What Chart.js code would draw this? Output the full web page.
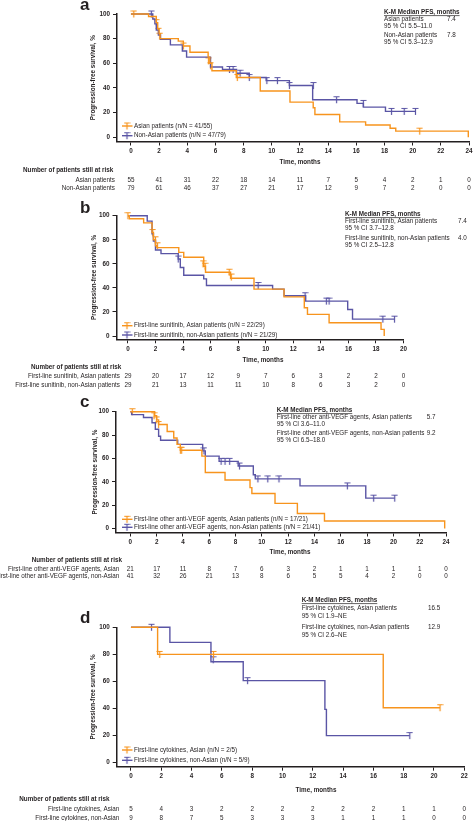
<!DOCTYPE html>
<html lang="en">
<head>
<meta charset="UTF-8">
<title>Progression-free survival, Asian vs non-Asian patients</title>
<script src="https://cdn.jsdelivr.net/npm/chart.js"></script>
<style>
  body { margin: 0; background: #fff; }
  #page { position: relative; width: 473px; height: 821px; overflow: hidden; }
  #page canvas { position: absolute; left: 0; }
</style>
</head>
<body>
<div id="page">
  <canvas id="chartA"></canvas>
  <canvas id="chartB"></canvas>
  <canvas id="chartC"></canvas>
  <canvas id="chartD"></canvas>
</div>

<script>
    // ---- data ----
    const yTicks = [0, 20, 40, 60, 80, 100];

    // a: all patients
    const aTicks = [0, 2, 4, 6, 8, 10, 12, 14, 16, 18, 20, 22, 24];
    const aAsianT = [0, 1.25, 1.8, 1.9, 2.0, 2.07, 3.36, 3.72, 4.19, 5.48, 5.6, 5.75, 7.48, 9.18, 11.29, 12.94, 13.06, 14.82, 16.66, 18.4, 18.8, 23.95];
    const aAsianS = [100, 98, 93, 88, 84, 80, 78, 74, 69, 65, 60, 54, 48.5, 37.5, 28.5, 24, 18.5, 12.5, 10, 7.3, 5, 0];
    const aAsianCensT = [0.2, 1.8, 1.95, 2.05, 3.72, 5.5, 5.65, 7.55, 20.5];
    const aAsianCensS = [100, 93, 86, 82, 74, 62, 58, 48.5, 5];
    const aNonT = [0, 1.55, 1.7, 1.8, 1.95, 2.1, 2.8, 3.65, 3.95, 5.65, 6.5, 7.5, 8.4, 9.6, 11.25, 12.9, 16.05, 16.5, 18.07, 20.2];
    const aNonS = [100, 96, 92, 87, 83, 79.5, 75, 70, 65, 57, 55, 52, 48.5, 46, 42, 30.5, 27.5, 24.5, 21, 21];
    const aNonCensT = [1.45, 7.0, 7.25, 7.75, 8.4, 9.65, 10.4, 11.25, 12.95, 14.6, 16.5, 18.5, 19.4, 20.2];
    const aNonCensS = [100, 55, 55, 52, 48.5, 46, 46, 42, 42, 30.5, 27.5, 21, 21, 21];
    const aRiskAsian = [55, 41, 31, 22, 18, 14, 11, 7, 5, 4, 2, 1, 0];
    const aRiskNon = [79, 61, 46, 37, 27, 21, 17, 12, 9, 7, 2, 0, 0];
    const aRiskLabels = ['Asian patients', 'Non-Asian patients'];
    const aLegend = ['Asian patients (n/N = 41/55)', 'Non-Asian patients (n/N = 47/79)'];
    const aNotes = ['Asian patients', '95 % CI 5.5\u201311.0', 'Non-Asian patients', '95 % CI 5.3\u201312.9'];
    const aMedians = ['7.4', '7.8'];

    // b: first-line sunitinib
    const bTicks = [0, 2, 4, 6, 8, 10, 12, 14, 16, 18, 20];
    const bAsianT = [0, 0.1, 1.14, 1.75, 1.85, 2.0, 2.1, 3.69, 4.05, 5.5, 5.63, 7.45, 9.15, 11.33, 12.8, 13.03, 14.6, 18.37, 18.6];
    const bAsianS = [100, 97.5, 94, 86, 80, 75, 73.5, 69.5, 65.5, 58, 53, 48, 39, 32.5, 23.5, 18, 11, 5.5, 0];
    const bAsianCensT = [0, 1.8, 2.0, 2.15, 5.45, 5.6, 7.35, 7.5];
    const bAsianCensS = [100, 86, 80, 75, 60, 58, 53, 49];
    const bNonT = [0, 1.4, 1.75, 1.85, 2.0, 2.4, 3.65, 3.8, 4.05, 5.5, 5.7, 10.5, 11.33, 12.9, 15.95, 16.3, 19.35];
    const bNonS = [100, 95.5, 85, 79, 71.5, 68.5, 64, 57, 50.5, 47.5, 42, 39, 33.5, 29, 22, 14, 14];
    const bNonCensT = [3.65, 9.45, 12.86, 14.4, 14.6, 18.5, 19.35];
    const bNonCensS = [64, 42, 33.5, 29, 29, 14, 14];
    const bRiskAsian = [29, 20, 17, 12, 9, 7, 6, 3, 2, 2, 0];
    const bRiskNon = [29, 21, 13, 11, 11, 10, 8, 6, 3, 2, 0];
    const bRiskLabels = ['First-line sunitinib, Asian patients', 'First-line sunitinib, non-Asian patients'];
    const bLegend = ['First-line sunitinib, Asian patients (n/N = 22/29)', 'First-line sunitinib, non-Asian patients (n/N = 21/29)'];
    const bNotes = ['First-line sunitinib, Asian patients', '95 % CI 3.7\u201312.8', 'First-line sunitinib, non-Asian patients', '95 % CI 2.5\u201312.8'];
    const bMedians = ['7.4', '4.0'];

    // c: first-line other anti-VEGF agents
    const cTicks = [0, 2, 4, 6, 8, 10, 12, 14, 16, 18, 20, 22, 24];
    const cAsianT = [0, 1.85, 2.0, 2.15, 2.8, 3.3, 3.55, 3.8, 5.44, 5.7, 7.2, 9.1, 9.24, 11.0, 12.7, 14.76, 23.9];
    const cAsianS = [100, 96.5, 93, 89, 83, 77.5, 72, 67, 62, 48, 41.5, 35, 30, 21.5, 12.8, 6.5, 0];
    const cAsianCensT = [0.15, 1.8, 2.0, 2.15, 3.8, 3.9];
    const cAsianCensS = [100, 96.5, 93, 89, 67, 67];
    const cNonT = [0, 0.1, 1.0, 1.65, 1.9, 2.15, 2.3, 3.6, 5.5, 5.7, 6.75, 8.2, 9.35, 9.5, 12.9, 17.9, 20.1];
    const cNonS = [100, 97.5, 95, 90.5, 85, 79, 75.5, 72, 66.5, 62, 57.5, 53.5, 46, 42.5, 36.5, 26, 26];
    const cNonCensT = [5.6, 6.9, 7.2, 7.55, 8.3, 9.7, 10.45, 11.3, 16.5, 18.5, 20.1];
    const cNonCensS = [66.5, 57.5, 57.5, 57.5, 53.5, 42.5, 42.5, 42.5, 36.5, 26, 26];
    const cRiskAsian = [21, 17, 11, 8, 7, 6, 3, 2, 1, 1, 1, 1, 0];
    const cRiskNon = [41, 32, 26, 21, 13, 8, 6, 5, 5, 4, 2, 0, 0];
    const cRiskLabels = ['First-line other anti-VEGF agents, Asian', 'First-line other anti-VEGF agents, non-Asian'];
    const cLegend = ['First-line other anti-VEGF agents, Asian patients (n/N = 17/21)', 'First-line other anti-VEGF agents, non-Asian patients (n/N = 21/41)'];
    const cNotes = ['First-line other anti-VEGF agents, Asian patients', '95 % CI 3.6\u201311.0', 'First-line other anti-VEGF agents, non-Asian patients', '95 % CI 6.5\u201318.0'];
    const cMedians = ['5.7', '9.2'];

    // d: first-line cytokines
    const dTicks = [0, 2, 4, 6, 8, 10, 12, 14, 16, 18, 20, 22];
    const dAsianT = [0, 1.76, 16.65, 20.4];
    const dAsianS = [100, 80, 40.6, 40.6];
    const dAsianCensT = [1.9, 5.45, 20.4];
    const dAsianCensS = [80, 80, 40.6];
    const dNonT = [0, 2.57, 5.28, 7.41, 12.8, 12.9, 18.4];
    const dNonS = [100, 88.9, 74.6, 60.6, 39.4, 20, 20];
    const dNonCensT = [1.36, 5.43, 7.7, 18.4];
    const dNonCensS = [100, 76, 60.6, 20];
    const dRiskAsian = [5, 4, 3, 2, 2, 2, 2, 2, 2, 1, 1, 0];
    const dRiskNon = [9, 8, 7, 5, 3, 3, 3, 1, 1, 1, 0, 0];
    const dRiskLabels = ['First-line cytokines, Asian', 'First-line cytokines, non-Asian'];
    const dLegend = ['First-line cytokines, Asian (n/N = 2/5)', 'First-line cytokines, non-Asian (n/N = 5/9)'];
    const dNotes = ['First-line cytokines, Asian patients', '95 % CI 1.9\u2013NE', 'First-line cytokines, non-Asian patients', '95 % CI 2.6\u2013NE'];
    const dMedians = ['16.5', '12.9'];

    // ---- look ----
    const FONT = '"Liberation Sans", Arial, Helvetica, sans-serif';
    const TXT = 6.3;
    const ink = '#231f20';
    const orange = '#f7941d';
    const blue = '#5a55a5';

    // where each panel sits on the page (page pixels)
    const panels = [
        { id: 'chartA', letter: 'a', top: 0, h: 196,
          area: { left: 117, right: 469.5, top: 14, bottom: 141.5 }, xMin: -0.99, xMax: 24, yMin: -3.4,
          ticks: aTicks, asian: [aAsianT, aAsianS], asianCens: [aAsianCensT, aAsianCensS],
          non: [aNonT, aNonS], nonCens: [aNonCensT, aNonCensS], risk: [aRiskAsian, aRiskNon],
          riskLabels: aRiskLabels, legend: aLegend, notes: aNotes, medians: aMedians,
          letterPos: [80, 10], yTitleX: 93, xTitle: [300, 162], legendY: [126, 135.7],
          note: { x: 384, vx: 447, y: [12, 19, 26, 35, 42] },
          riskPos: { hx: 23, hy: 170.7, lx: 115, y: [180, 188.3] } },
        { id: 'chartB', letter: 'b', top: 197, h: 196,
          area: { left: 116.5, right: 403.5, top: 215.7, bottom: 339.3 }, xMin: -0.83, xMax: 20, yMin: -2.74,
          ticks: bTicks, asian: [bAsianT, bAsianS], asianCens: [bAsianCensT, bAsianCensS],
          non: [bNonT, bNonS], nonCens: [bNonCensT, bNonCensS], risk: [bRiskAsian, bRiskNon],
          riskLabels: bRiskLabels, legend: bLegend, notes: bNotes, medians: bMedians,
          letterPos: [80, 213], yTitleX: 94, xTitle: [263, 360.3], legendY: [325.7, 335],
          note: { x: 345, vx: 458, y: [214, 221.3, 228, 238.3, 245] },
          riskPos: { hx: 31, hy: 367.3, lx: 120, y: [376.7, 385] } },
        { id: 'chartC', letter: 'c', top: 393, h: 192,
          area: { left: 116, right: 446, top: 411.7, bottom: 532.5 }, xMin: -1.09, xMax: 24, yMin: -3.4,
          ticks: cTicks, asian: [cAsianT, cAsianS], asianCens: [cAsianCensT, cAsianCensS],
          non: [cNonT, cNonS], nonCens: [cNonCensT, cNonCensS], risk: [cRiskAsian, cRiskNon],
          riskLabels: cRiskLabels, legend: cLegend, notes: cNotes, medians: cMedians,
          letterPos: [80, 407], yTitleX: 95, xTitle: [290, 552.7], legendY: [519.3, 527.3],
          note: { x: 276.7, vx: 426.7, y: [410, 417.3, 424.7, 433.3, 440.7] },
          riskPos: { hx: 31.7, hy: 560, lx: 119.3, y: [569.3, 576.5] } },
        { id: 'chartD', letter: 'd', top: 590, h: 231,
          area: { left: 116.7, right: 464.3, top: 627.3, bottom: 766.7 }, xMin: -0.94, xMax: 22, yMin: -2.95,
          ticks: dTicks, asian: [dAsianT, dAsianS], asianCens: [dAsianCensT, dAsianCensS],
          non: [dNonT, dNonS], nonCens: [dNonCensT, dNonCensS], risk: [dRiskAsian, dRiskNon],
          riskLabels: dRiskLabels, legend: dLegend, notes: dNotes, medians: dMedians,
          letterPos: [80, 623], yTitleX: 93, xTitle: [316, 790], legendY: [750, 760.3],
          note: { x: 301.7, vx: 428, y: [600, 608.3, 616.7, 627.3, 635] },
          riskPos: { hx: 19.3, hy: 799, lx: 119.3, y: [809.3, 818.3] } }
    ];

    const toPts = (t, s) => t.map((v, i) => ({ x: v, y: s[i] }));

    // censor mark: little "T" sitting on the curve
    function censorGlyph(color) {
        const c = document.createElement('canvas');
        c.width = 7; c.height = 9;
        const g = c.getContext('2d');
        g.strokeStyle = color;
        g.lineWidth = 1.2;
        g.beginPath();
        g.moveTo(0.5, 1.5); g.lineTo(6.5, 1.5);
        g.moveTo(3.5, 1.5); g.lineTo(3.5, 8);
        g.stroke();
        return c;
    }
    const glyphs = { orange: censorGlyph(orange), blue: censorGlyph(blue) };

    const font = (size, bold) => (bold ? 'bold ' : '') + size + 'px ' + FONT;

    // all the text around each plot
    const textPlugin = p => ({
        id: 'text_' + p.id,
        afterDraw(chart) {
            const ctx = chart.ctx;
            const T = p.top;
            const xs = chart.scales.x;
            ctx.save();
            ctx.fillStyle = ink;

            // panel letter
            ctx.font = font(17, true);
            ctx.textAlign = 'left';
            ctx.textBaseline = 'alphabetic';
            ctx.fillText(p.letter, p.letterPos[0], p.letterPos[1] - T);

            ctx.textBaseline = 'middle';

            // y title
            ctx.save();
            ctx.translate(p.yTitleX, (p.area.top + p.area.bottom) / 2 - T);
            ctx.rotate(-Math.PI / 2);
            ctx.textAlign = 'center';
            ctx.font = font(TXT, true);
            ctx.fillText('Progression-free survival, %', 0, 0);
            ctx.restore();

            // x title
            ctx.textAlign = 'center';
            ctx.font = font(TXT, true);
            ctx.fillText('Time, months', p.xTitle[0], p.xTitle[1] - T);

            // median box
            ctx.textAlign = 'left';
            const head = 'K-M Median PFS, months';
            const hy = p.note.y[0] - T;
            ctx.fillText(head, p.note.x, hy);
            const hw = ctx.measureText(head).width;
            ctx.strokeStyle = ink;
            ctx.lineWidth = 0.7;
            ctx.beginPath();
            ctx.moveTo(p.note.x, hy + 3.6);
            ctx.lineTo(p.note.x + hw, hy + 3.6);
            ctx.stroke();
            ctx.font = font(TXT, false);
            p.notes.forEach((s, i) => ctx.fillText(s, p.note.x, p.note.y[i + 1] - T));
            ctx.fillText(p.medians[0], p.note.vx, p.note.y[1] - T);
            ctx.fillText(p.medians[1], p.note.vx, p.note.y[3] - T);

            // legend
            [[orange, glyphs.orange], [blue, glyphs.blue]].forEach(([col, g], i) => {
                const y = p.legendY[i] - T;
                ctx.strokeStyle = col;
                ctx.lineWidth = 1.4;
                ctx.beginPath();
                ctx.moveTo(122, y); ctx.lineTo(132.5, y);
                ctx.stroke();
                ctx.drawImage(g, 127 - 3.5, y - 4.5);
                ctx.fillStyle = ink;
                ctx.font = font(TXT, false);
                ctx.textAlign = 'left';
                ctx.fillText(p.legend[i], 134, y);
            });

            // number at risk
            ctx.font = font(TXT, true);
            ctx.textAlign = 'left';
            ctx.fillText('Number of patients still at risk', p.riskPos.hx, p.riskPos.hy - T);
            ctx.font = font(TXT, false);
            p.risk.forEach((row, r) => {
                const y = p.riskPos.y[r] - T;
                ctx.textAlign = 'right';
                ctx.fillText(p.riskLabels[r], p.riskPos.lx, y);
                ctx.textAlign = 'center';
                row.forEach((n, i) => ctx.fillText(String(n), xs.getPixelForValue(p.ticks[i]), y));
            });
            ctx.restore();
        }
    });

    function makePanel(p) {
        const canvas = document.getElementById(p.id);
        canvas.width = 473;
        canvas.height = p.h;
        canvas.style.top = p.top + 'px';

        // K-M step: hold the previous value, then drop at the event time
        const curve = (pts, color) => ({
            data: pts, borderColor: color, borderWidth: 1.4, stepped: 'before',
            pointRadius: 0, fill: false, clip: false, borderJoinStyle: 'miter'
        });
        const marks = (pts, glyph) => ({
            data: pts, showLine: false, pointStyle: glyph, pointRadius: 3,
            clip: false, borderWidth: 0
        });

        return new Chart(canvas, {
            type: 'line',
            data: {
                datasets: [
                    curve(toPts(p.asian[0], p.asian[1]), orange),
                    curve(toPts(p.non[0], p.non[1]), blue),
                    marks(toPts(p.asianCens[0], p.asianCens[1]), glyphs.orange),
                    marks(toPts(p.nonCens[0], p.nonCens[1]), glyphs.blue)
                ]
            },
            options: {
                responsive: false,
                animation: false,
                devicePixelRatio: 1,
                layout: { padding: { left: 0, top: p.area.top - p.top, right: 473 - p.area.right, bottom: 0 } },
                plugins: { legend: { display: false }, tooltip: { enabled: false } },
                scales: {
                    x: {
                        type: 'linear', min: p.xMin, max: p.xMax,
                        afterBuildTicks: s => { s.ticks = p.ticks.map(v => ({ value: v })); },
                        afterFit: s => { s.height = p.top + p.h - p.area.bottom; s.paddingLeft = 0; s.paddingRight = 0; },
                        grid: { drawOnChartArea: false, tickLength: 4, color: ink, lineWidth: 1 },
                        border: { color: ink, width: 1.5 },
                        ticks: { color: ink, font: { family: FONT, size: TXT, weight: 'bold' }, padding: 2, maxRotation: 0, autoSkip: false }
                    },
                    y: {
                        type: 'linear', min: p.yMin, max: 100,
                        afterBuildTicks: s => { s.ticks = yTicks.map(v => ({ value: v })); },
                        afterFit: s => { s.width = p.area.left; s.paddingTop = 0; s.paddingBottom = 0; },
                        grid: { drawOnChartArea: false, tickLength: 4, color: ink, lineWidth: 1 },
                        border: { color: ink, width: 1.5 },
                        ticks: { color: ink, font: { family: FONT, size: TXT, weight: 'bold' }, padding: 3 }
                    }
                }
            },
            plugins: [textPlugin(p)]
        });
    }

    panels.forEach(makePanel);
</script>
</body>
</html>
